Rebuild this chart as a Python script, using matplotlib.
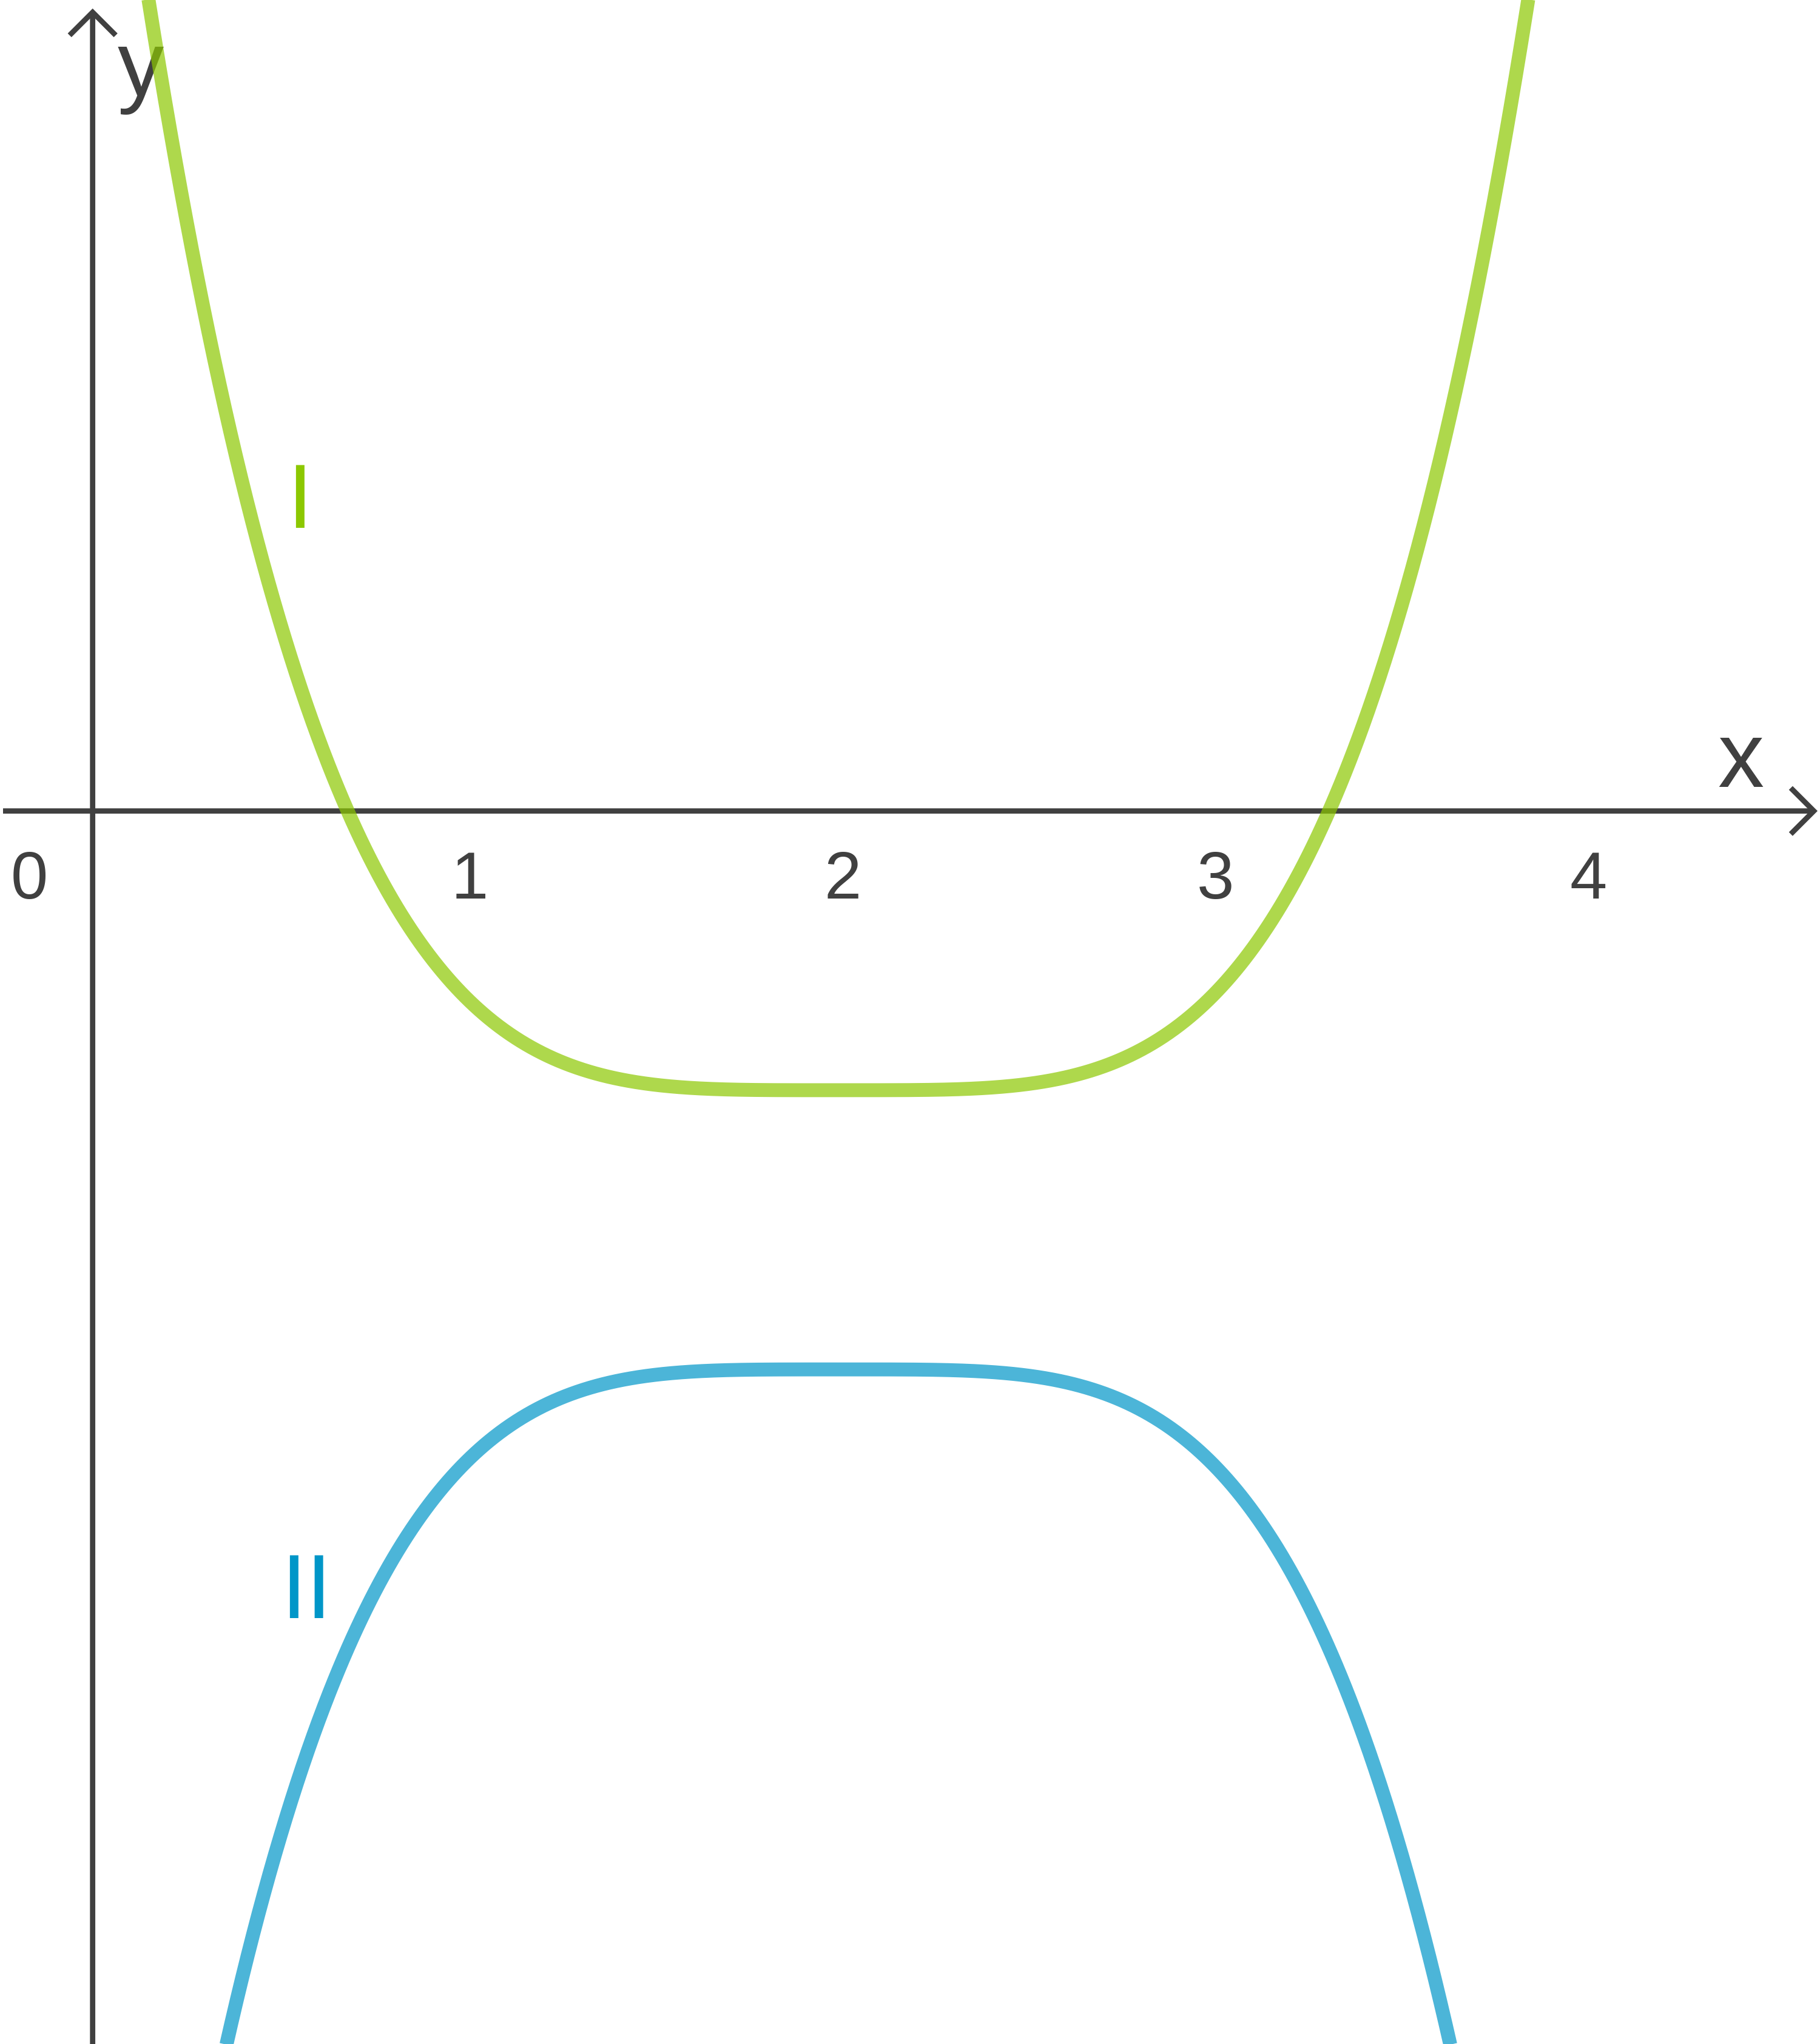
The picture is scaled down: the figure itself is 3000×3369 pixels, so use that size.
import numpy as np
import matplotlib
matplotlib.use("Agg")
import matplotlib.pyplot as plt

plt.rcParams['font.family'] = ['Liberation Sans', 'DejaVu Sans']

# ---- data ----
x_ticks = [0, 1, 2, 3, 4]
x_tick_labels = ["0", "1", "2", "3", "4"]
curve_names = ["I", "II"]
curve_center = [2.0, 2.0]          # x of the flat extremum
curve_sign = [1.0, -1.0]           # opening direction
curve_offset = [-3.0, -6.0]        # y level of the flat extremum
curve_power = [4, 4]
curve_colors = ["#8CC800", "#0096C8"]
axis_color = "#404040"

# ---- figure ----
W, H, DPI = 3000, 3370, 300
fig = plt.figure(figsize=(W / DPI, H / DPI), dpi=DPI)
ax = fig.add_axes([0, 0, 1, 1])
ax.set_axis_off()

# pixel geometry of the reference
x0_px, y0_px = 152.7, 1337.7
ux, uy = 614.6, 153.4
def dx(px):
    return (px - x0_px) / ux
def dy(py):
    return (y0_px - py) / uy

ax.set_xlim(dx(0), dx(W))
ax.set_ylim(dy(H), dy(0))

# curves
xs = np.linspace(dx(0), dx(W), 2000)
for c, s, o, p, col in zip(curve_center, curve_sign, curve_offset, curve_power, curve_colors):
    ys = s * (xs - c) ** p + o
    ax.plot(xs, ys, color=col, alpha=0.7, lw=5.5, solid_capstyle='butt', zorder=3)

# axes with open arrow heads
arrow = dict(arrowstyle='->, head_length=0.38, head_width=0.38', color=axis_color,
             lw=2.1, shrinkA=0, shrinkB=0, mutation_scale=24,
             capstyle='butt', joinstyle='miter')
ax.annotate('', xy=(dx(2996), 0), xytext=(dx(5), 0), arrowprops=arrow, zorder=2)
ax.annotate('', xy=(0, dy(15)), xytext=(0, dy(H + 5)), arrowprops=arrow, zorder=2)

# tick labels
for t, lab in zip(x_ticks, x_tick_labels):
    xp = dx(48) if t == 0 else t + 0.012
    ax.text(xp, dy(1481), lab, ha='center', va='baseline', fontsize=26.5,
            color=axis_color, zorder=4)

# axis names
ax.text(dx(2869), dy(1297), "x", ha='center', va='baseline', fontsize=36.5,
        color=axis_color, zorder=4)
ax.text(dx(232), dy(157), "y", ha='center', va='baseline', fontsize=36.5,
        color=axis_color, zorder=2)

# curve labels
ax.text(dx(494), dy(870), curve_names[0], ha='center', va='baseline', fontsize=36,
        color=curve_colors[0], zorder=4)
ax.text(dx(505), dy(2667), curve_names[1], ha='center', va='baseline', fontsize=36,
        color=curve_colors[1], zorder=4)

fig.savefig("out.png", dpi=DPI, facecolor='white')
